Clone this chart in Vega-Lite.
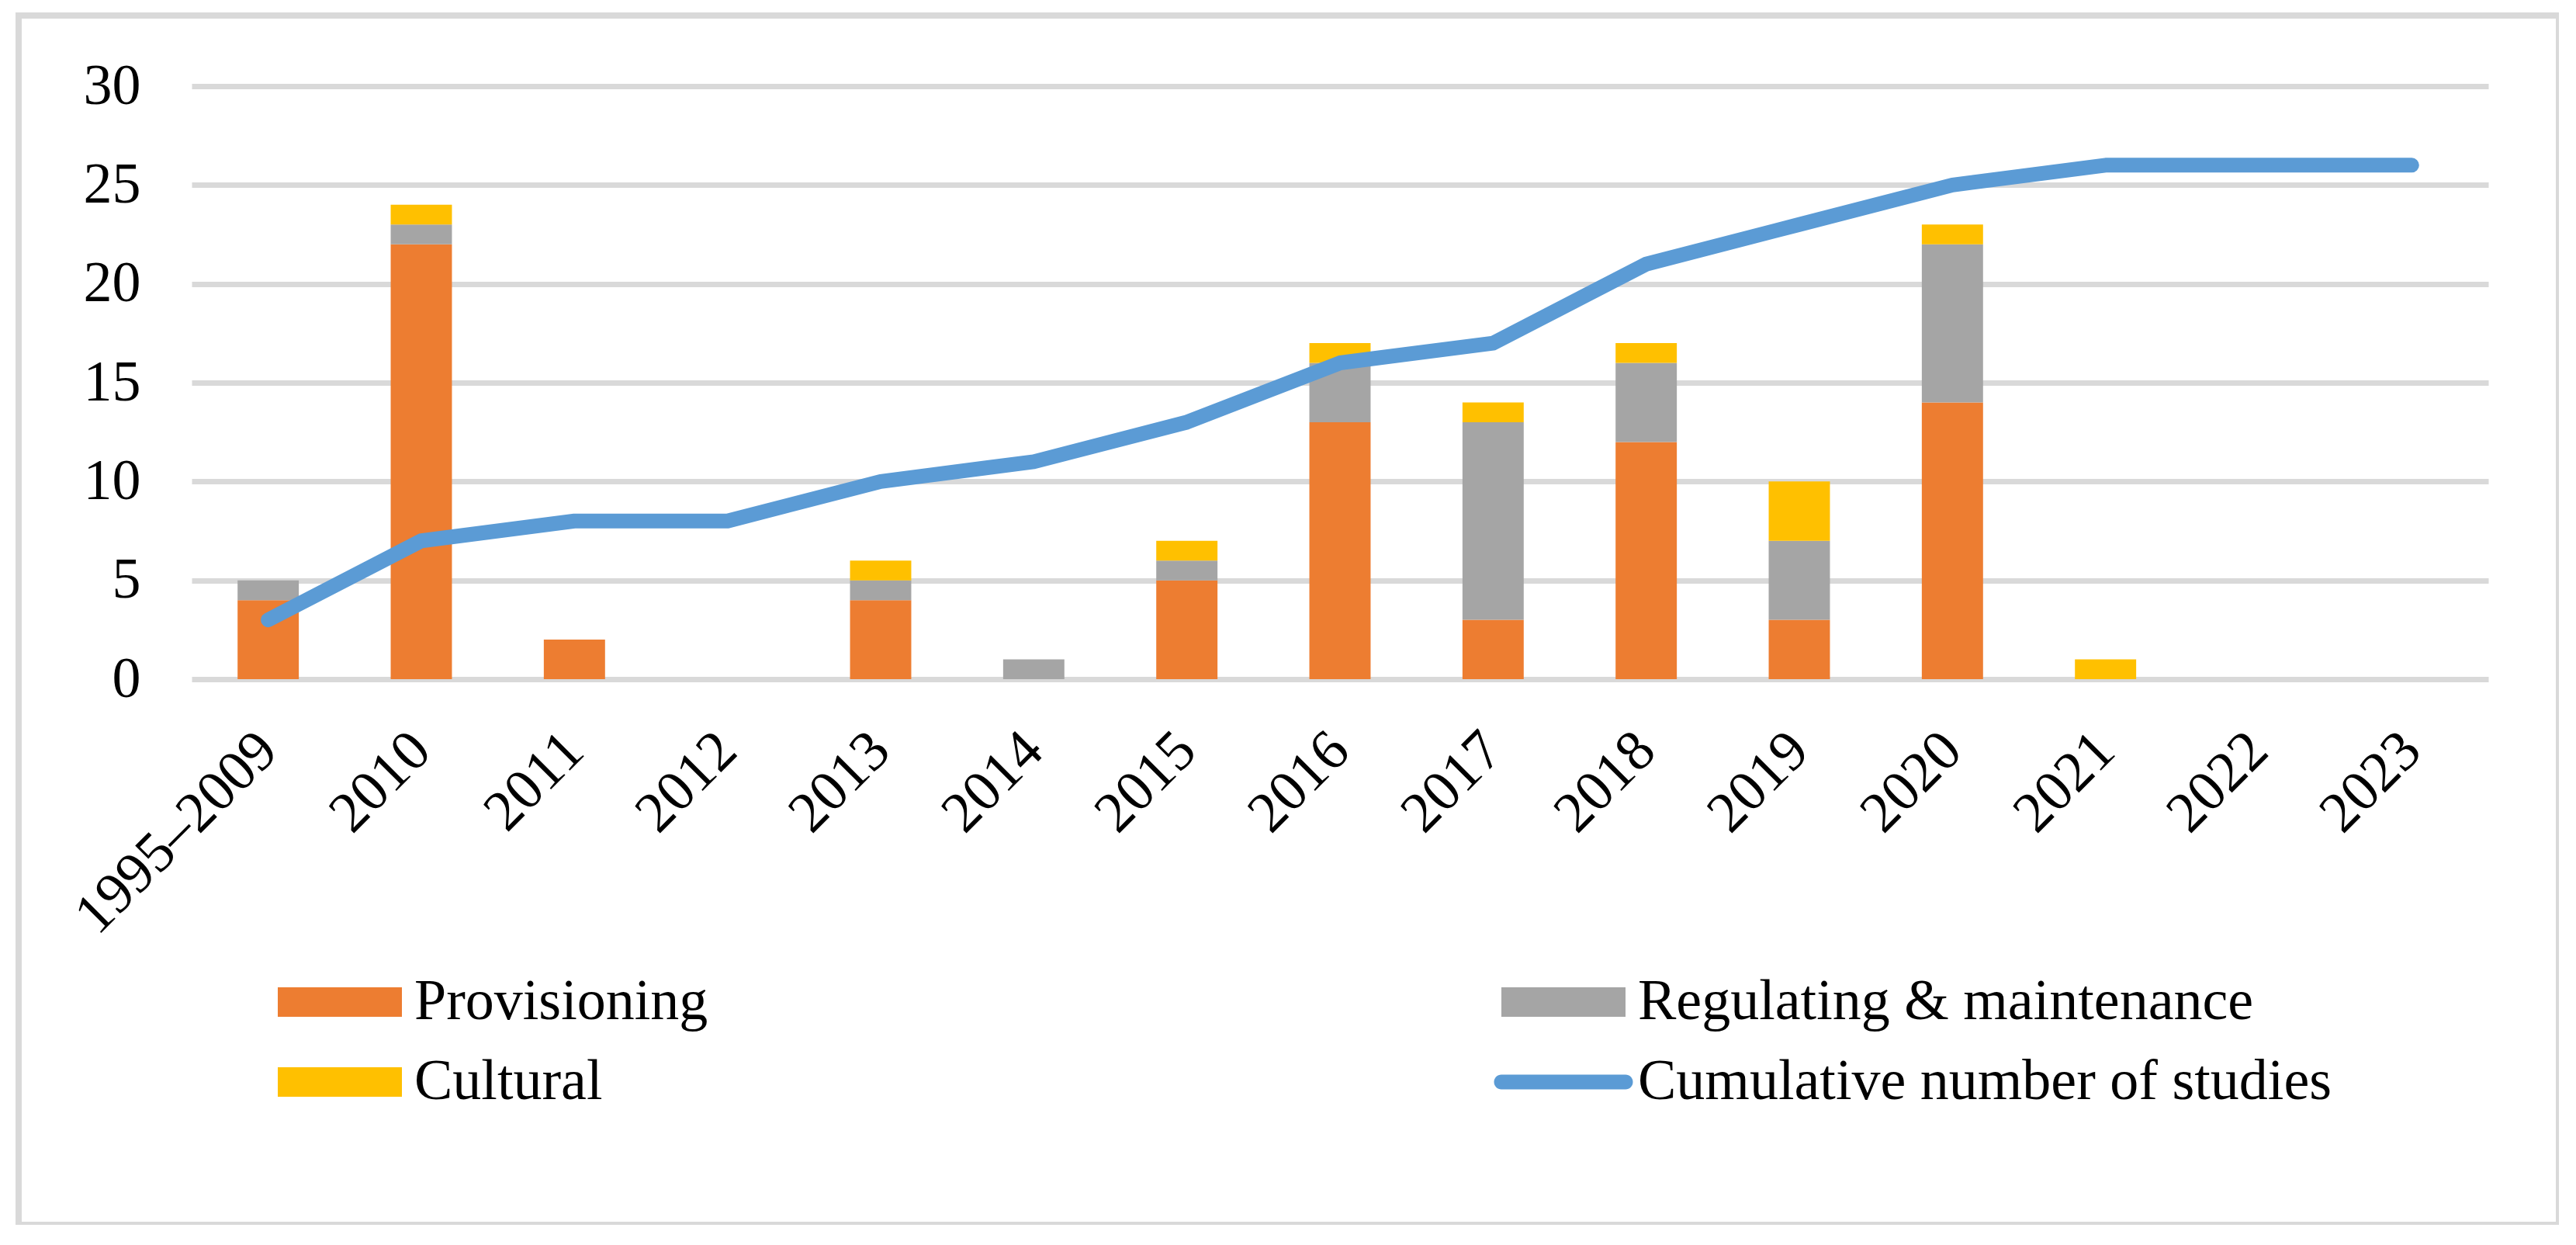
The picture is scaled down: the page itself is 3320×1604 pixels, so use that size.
{
  "$schema": "https://vega.github.io/schema/vega-lite/v6.json",
  "width": 3274,
  "height": 1558,
  "autosize": {"type": "none"},
  "padding": {"left": 24, "top": 20, "right": 0, "bottom": 0},
  "background": "white",
  "config": {
    "view": {"stroke": "#d9d9d9", "strokeWidth": 8},
    "font": "Liberation Serif"
  },
  "layer": [
    {
      "data": {
        "values": [
          {"period": "1995–2009", "service": "Provisioning", "ord": 1, "count": 4},
          {"period": "1995–2009", "service": "Regulating & maintenance", "ord": 2, "count": 1},
          {"period": "2010", "service": "Provisioning", "ord": 1, "count": 22},
          {"period": "2010", "service": "Regulating & maintenance", "ord": 2, "count": 1},
          {"period": "2010", "service": "Cultural", "ord": 3, "count": 1},
          {"period": "2011", "service": "Provisioning", "ord": 1, "count": 2},
          {"period": "2013", "service": "Provisioning", "ord": 1, "count": 4},
          {"period": "2013", "service": "Regulating & maintenance", "ord": 2, "count": 1},
          {"period": "2013", "service": "Cultural", "ord": 3, "count": 1},
          {"period": "2014", "service": "Regulating & maintenance", "ord": 2, "count": 1},
          {"period": "2015", "service": "Provisioning", "ord": 1, "count": 5},
          {"period": "2015", "service": "Regulating & maintenance", "ord": 2, "count": 1},
          {"period": "2015", "service": "Cultural", "ord": 3, "count": 1},
          {"period": "2016", "service": "Provisioning", "ord": 1, "count": 13},
          {"period": "2016", "service": "Regulating & maintenance", "ord": 2, "count": 3},
          {"period": "2016", "service": "Cultural", "ord": 3, "count": 1},
          {"period": "2017", "service": "Provisioning", "ord": 1, "count": 3},
          {"period": "2017", "service": "Regulating & maintenance", "ord": 2, "count": 10},
          {"period": "2017", "service": "Cultural", "ord": 3, "count": 1},
          {"period": "2018", "service": "Provisioning", "ord": 1, "count": 12},
          {"period": "2018", "service": "Regulating & maintenance", "ord": 2, "count": 4},
          {"period": "2018", "service": "Cultural", "ord": 3, "count": 1},
          {"period": "2019", "service": "Provisioning", "ord": 1, "count": 3},
          {"period": "2019", "service": "Regulating & maintenance", "ord": 2, "count": 4},
          {"period": "2019", "service": "Cultural", "ord": 3, "count": 3},
          {"period": "2020", "service": "Provisioning", "ord": 1, "count": 14},
          {"period": "2020", "service": "Regulating & maintenance", "ord": 2, "count": 8},
          {"period": "2020", "service": "Cultural", "ord": 3, "count": 1},
          {"period": "2021", "service": "Cultural", "ord": 3, "count": 1}
        ]
      },
      "mark": {"type": "bar"},
      "encoding": {
        "x": {
          "field": "period",
          "type": "nominal",
          "scale": {
            "domain": ["1995–2009", "2010", "2011", "2012", "2013", "2014", "2015", "2016", "2017", "2018", "2019", "2020", "2021", "2022", "2023"],
            "range": [223, 3183],
            "paddingInner": 0.6,
            "paddingOuter": 0.3
          },
          "axis": {
            "title": null,
            "orient": "bottom",
            "offset": -703,
            "domain": false,
            "ticks": false,
            "grid": false,
            "labelAngle": -45,
            "labelAlign": "right",
            "labelBaseline": "middle",
            "labelPadding": 80,
            "labelFont": "Liberation Serif",
            "labelFontSize": 74,
            "labelColor": "black",
            "labelOverlap": false,
            "labelLimit": 1000
          }
        },
        "y": {
          "field": "count",
          "type": "quantitative",
          "stack": "zero",
          "scale": {"domain": [0, 30], "range": [855, 91], "nice": false},
          "axis": {
            "title": null,
            "orient": "left",
            "offset": -223,
            "domain": false,
            "ticks": false,
            "grid": true,
            "gridColor": "#d9d9d9",
            "gridWidth": 7,
            "values": [0, 5, 10, 15, 20, 25, 30],
            "labelPadding": 66,
            "labelFont": "Liberation Serif",
            "labelFontSize": 74,
            "labelColor": "black",
            "labelOverlap": false
          }
        },
        "color": {
          "field": "service",
          "type": "nominal",
          "scale": {
            "domain": ["Provisioning", "Regulating & maintenance", "Cultural", "Cumulative number of studies"],
            "range": ["#ED7D31", "#A5A5A5", "#FFC000", "#5B9BD5"]
          },
          "legend": {
            "title": null,
            "orient": "none",
            "direction": "horizontal",
            "legendX": 333,
            "legendY": 1234,
            "columns": 2,
            "columnPadding": 1012,
            "rowPadding": 29,
            "padding": 0,
            "labelFont": "Liberation Serif",
            "labelFontSize": 74,
            "labelColor": "black",
            "labelLimit": 2000,
            "symbolSize": 1600,
            "symbolStrokeWidth": 0,
            "symbolOffset": 44,
            "labelOffset": 59,
            "symbolType": "M-4,-0.95H4V0.95H-4Z",
            "encode": {
              "symbols": {
                "update": {
                  "shape": {"signal": "datum.value === 'Cumulative number of studies' ? 'M-4,-0.475H4A0.475,0.475 0 0 1 4,0.475H-4A0.475,0.475 0 0 1 -4,-0.475Z' : 'M-4,-0.95H4V0.95H-4Z'"},
                  "fill": {"signal": "scale('color', datum.value)"},
                  "strokeWidth": {"value": 0},
                  "opacity": {"value": 1}
                }
              }
            }
          }
        },
        "order": {"field": "ord", "type": "quantitative"}
      }
    },
    {
      "data": {
        "values": [
          {"period": "1995–2009", "cumulative": 3},
          {"period": "2010", "cumulative": 7},
          {"period": "2011", "cumulative": 8},
          {"period": "2012", "cumulative": 8},
          {"period": "2013", "cumulative": 10},
          {"period": "2014", "cumulative": 11},
          {"period": "2015", "cumulative": 13},
          {"period": "2016", "cumulative": 16},
          {"period": "2017", "cumulative": 17},
          {"period": "2018", "cumulative": 21},
          {"period": "2019", "cumulative": 23},
          {"period": "2020", "cumulative": 25},
          {"period": "2021", "cumulative": 26},
          {"period": "2022", "cumulative": 26},
          {"period": "2023", "cumulative": 26}
        ]
      },
      "mark": {"type": "line", "strokeWidth": 19, "strokeCap": "round", "strokeJoin": "round"},
      "encoding": {
        "x": {"field": "period", "type": "nominal"},
        "y": {"field": "cumulative", "type": "quantitative"},
        "color": {"datum": "Cumulative number of studies", "type": "nominal"}
      }
    }
  ]
}
